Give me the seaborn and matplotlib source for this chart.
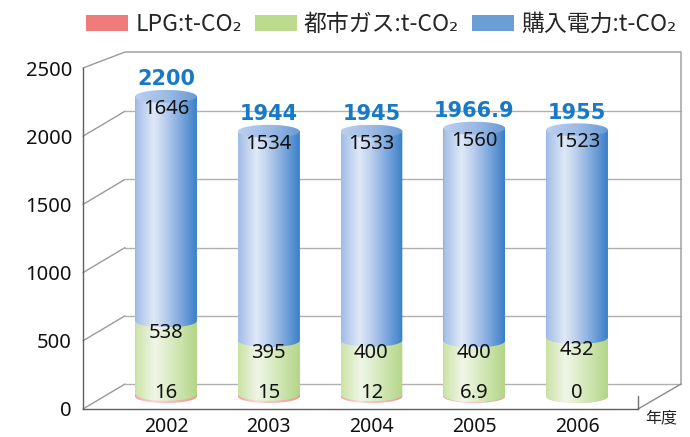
import numpy as np
import pandas as pd
import matplotlib
matplotlib.use('Agg')
import matplotlib.pyplot as plt
import seaborn as sns
from matplotlib import transforms
from matplotlib.colors import LinearSegmentedColormap
from matplotlib.patches import Patch
from matplotlib.path import Path

# data
years = ['2002', '2003', '2004', '2005', '2006']
lpg = [16, 15, 12, 6.9, 0]
city_gas = [538, 395, 400, 400, 432]
power = [1646, 1534, 1533, 1560, 1523]
y_ticks = [0, 500, 1000, 1500, 2000, 2500]
legend_labels = ['LPG:t-CO₂', '都市ガス:t-CO₂', '購入電力:t-CO₂']
legend_colors = ['#ef7b7b', '#bcdb8c', '#6b9ed5']

CJK = ['Noto Sans CJK JP', 'DejaVu Sans']

# cylinder shading (left -> right across the bar)
side_cmaps = [
    LinearSegmentedColormap.from_list('pink', [(0, '#f2a0a0'), (0.3, '#fbd6d6'), (1, '#ee9696')]),
    LinearSegmentedColormap.from_list('green', [(0, '#cbe2a6'), (0.32, '#f0f6e8'), (0.6, '#d7eabf'), (1, '#b3d587')]),
    LinearSegmentedColormap.from_list('blue', [(0, '#a2bce6'), (0.3, '#dfe9f7'), (0.5, '#b9cdec'),
                                               (0.8, '#6e9fd9'), (1, '#3a7fc7')]),
]
top_cmap = LinearSegmentedColormap.from_list('blue_top', [(0, '#bcd0ee'), (0.5, '#9dbbe6'), (1, '#6a9bd6')])


def main():
    sns.set_style('white')
    plt.rcParams['font.family'] = ['Noto Sans', 'Noto Sans CJK JP', 'DejaVu Sans']

    W, H, DPI = 690, 437, 100
    fig = plt.figure(figsize=(W / DPI, H / DPI), dpi=DPI)
    # front plane of the 3D box, in pixels from the top-left corner
    left, right, bottom, top = 83, 690, 409, 30
    ax = fig.add_axes([left / W, 1 - bottom / H, (right - left) / W, (bottom - top) / H])

    sx = 102.75          # px per category
    sy = 341 / 2500      # px per t-CO2
    x0_px = 145          # pixel of category 0 on the front plane
    xpix = lambda p: (p - x0_px) / sx
    xmin, xmax = xpix(left), xpix(right)
    ymax = (bottom - top) / sy

    df = pd.DataFrame({'year': years, 'lpg': lpg, 'gas': city_gas, 'power': power})
    df['gas_top'] = df['lpg'] + df['gas']
    df['total'] = df['gas_top'] + df['power']

    for col, c in [('total', legend_colors[2]), ('gas_top', legend_colors[1]), ('lpg', legend_colors[0])]:
        sns.barplot(data=df, x='year', y=col, color=c, saturation=1, width=0.6,
                    linewidth=0, ax=ax, zorder=2)

    # bars sit half-way into the depth of the box
    mid = transforms.offset_copy(ax.transData, fig=fig, x=21, y=12.5, units='dots')
    for p in ax.patches:
        p.set_transform(mid)

    ry = 6.5 / sy  # half height of the cylinder ellipses
    n = len(years)
    grad = np.linspace(0, 1, 256)[None, :]

    def shade(cmap, xa, xb, lo, hi, path):
        im = ax.imshow(grad, cmap=cmap, extent=[xa, xb, lo - ry, hi + ry], aspect='auto',
                       origin='lower', interpolation='bilinear', transform=mid, zorder=3)
        im.set_clip_path(path, mid)

    for j in range(n):
        bar_total, bar_gas, bar_lpg = ax.patches[j], ax.patches[n + j], ax.patches[2 * n + j]
        xa = bar_total.get_x()
        xb = xa + bar_total.get_width()
        cx, rx = (xa + xb) / 2, (xb - xa) / 2
        edges = [0, bar_lpg.get_height(), bar_gas.get_height(), bar_total.get_height()]
        t = np.linspace(np.pi, 2 * np.pi, 80)
        for k in range(3):
            lo, hi = edges[k], edges[k + 1]
            verts = np.column_stack([cx + rx * np.cos(t), lo + ry * np.sin(t)])
            verts = np.vstack([verts, [[xb, hi], [xa, hi], verts[0]]])
            shade(side_cmaps[k], xa, xb, lo, hi, Path(verts, closed=True))
        tt = np.linspace(0, 2 * np.pi, 120)
        ell = np.column_stack([cx + rx * np.cos(tt), edges[3] + ry * np.sin(tt)])
        shade(top_cmap, xa, xb, edges[3], edges[3], Path(ell, closed=True))

        ax.annotate(f'{lpg[j]:g}', xy=(cx, 0), xycoords=mid, xytext=(0, -1), textcoords='offset points',
                    ha='center', va='baseline', fontsize=14.5, color='#111111', zorder=6)
        ax.annotate(f'{city_gas[j]:g}', xy=(cx, edges[2]), xycoords=mid, xytext=(0, -12.6),
                    textcoords='offset points', ha='center', va='baseline', fontsize=14.5,
                    color='#111111', zorder=6)
        ax.annotate(f'{power[j]:g}', xy=(cx, edges[3]), xycoords=mid, xytext=(0, -12.6),
                    textcoords='offset points', ha='center', va='baseline', fontsize=14.5,
                    color='#111111', zorder=6)
        ax.annotate(f'{edges[3]:g}', xy=(cx, edges[3]), xycoords=mid, xytext=(0, 8),
                    textcoords='offset points', ha='center', va='baseline', fontsize=15,
                    family='DejaVu Sans', fontweight='bold', color='#1a79c4', zorder=6)

    # 3D box: side wall, back wall and floor
    bdx, bdy, bdy_top = 42 / sx, 25 / sy, 16 / sy
    x_back_l, x_back_r, x_front_r = xmin + bdx, xpix(681), xpix(638)
    for v in y_ticks[:-1]:
        ax.plot([xmin, x_back_l], [v, v + bdy], color='#9a9a9a', lw=1, zorder=1, clip_on=False)
        ax.plot([x_back_l, x_back_r], [v + bdy, v + bdy], color='#b0b0b0', lw=1, zorder=1)
    top_v = y_ticks[-1]
    ax.plot([xmin, x_back_l, x_back_r, x_back_r], [top_v, top_v + bdy_top, top_v + bdy_top, bdy],
            color='#9a9a9a', lw=1, zorder=1, clip_on=False)
    ax.plot([x_front_r, x_back_r], [0, bdy], color='#8a8a8a', lw=1, zorder=1)
    ax.plot([x_front_r, x_front_r], [0, 13 / sy], color='#707070', lw=1, zorder=1, clip_on=False)

    ax.set_xlim(xmin, xmax)
    ax.set_ylim(0, ymax)
    ax.set_xlabel('')
    ax.set_ylabel('')
    for s in ['top', 'right']:
        ax.spines[s].set_visible(False)
    ax.spines['left'].set_bounds(0, top_v)
    ax.spines['bottom'].set_bounds(xmin, x_front_r)
    for s in ['left', 'bottom']:
        ax.spines[s].set_color('#606060')
        ax.spines[s].set_linewidth(1)

    ax.set_yticks(y_ticks)
    ax.set_yticklabels([str(v) for v in y_ticks])
    ax.tick_params(axis='y', direction='in', length=14, width=1, color='#707070', pad=8,
                   labelsize=14.5, labelcolor='#111111')
    ax.yaxis.get_major_ticks()[0].tick1line.set_color('#2f9e5c')
    ax.set_xticks(np.arange(n) + 21 / sx)
    ax.set_xticklabels(years)
    ax.tick_params(axis='x', length=0, pad=6, labelsize=14, labelcolor='#111111')

    handles = [Patch(facecolor=c, edgecolor='none') for c in legend_colors]
    fig.legend(handles, legend_labels, loc='upper left', bbox_to_anchor=(86 / W, 1 - 13 / H),
               ncol=3, frameon=False, prop={'family': CJK, 'size': 16.5},
               handlelength=1.85, handleheight=0.75, handletextpad=0.3, columnspacing=0.55,
               borderpad=0, borderaxespad=0)
    fig.text(661 / W, 1 - 418 / H, '年度', ha='center', va='center', fontsize=11.5,
             family=CJK, color='#222222')

    fig.savefig('out.png', dpi=DPI)


if __name__ == '__main__':
    main()
